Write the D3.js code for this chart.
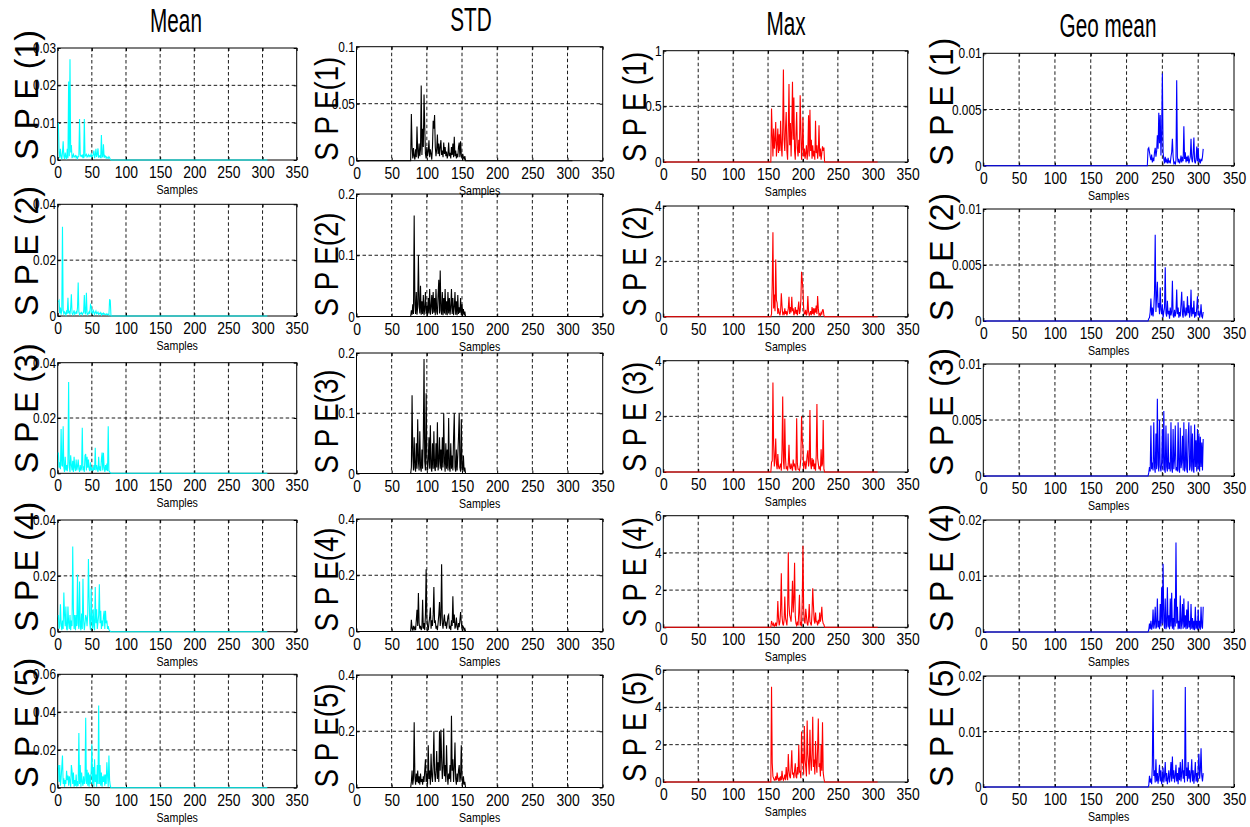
<!DOCTYPE html>
<html>
<head>
<meta charset="utf-8">
<script src="https://cdn.jsdelivr.net/npm/d3@7/dist/d3.min.js"></script>
<style>
  html, body { margin: 0; padding: 0; background: #ffffff; }
  svg { display: block; }
  text { font-family: "Liberation Sans", Arial, "DejaVu Sans", sans-serif; fill: #000; }
</style>
</head>
<body>
<svg id="chart" width="1250" height="827"></svg>
<script>
// ---- data -------------------------------------------------------------
// Each feature is active over its own block of samples; outside it the SPE is 0.
const lastSample = 307;
const xTicks = [0, 50, 100, 150, 200, 250, 300, 350];
const xMax = 350;

const columnTitles = ["Mean", "STD", "Max", "Geo mean"];
const blockStart = [1, 78, 155, 230];

// Mean feature, SPE(1)..SPE(5), samples 1..78
const meanSpe1 = [0.010,0.002,0.0005,0.003,0.001,0.0002,0.002,0.005,0.001,0.0003,0.002,0.0008,0.0002,0.003,0.0005,0.021,0.001,0.027,0.002,0.004,0.0005,0.001,0.0015,0.0008,0.001,0.0012,0.0006,0.001,0.0004,0.0009,0.001,0.011,0.0015,0.001,0.0012,0.0008,0.0015,0.0005,0.011,0.001,0.0012,0.0015,0.0008,0.001,0.0014,0.0009,0.0012,0.001,0.0016,0.0008,0.0012,0.0014,0.0025,0.0005,0.0012,0.003,0.0008,0.0015,0.0031,0.0006,0.001,0.0012,0.0005,0.0067,0.0008,0.001,0.0042,0.0006,0.0012,0.001,0.0005,0.0008,0.0006,0.0004,0.0009,0.0006,0.0002,0];
const meanSpe2 = [0.005,0.0055,0.001,0.003,0.0005,0.002,0.032,0.002,0.0008,0.0015,0.001,0.0004,0.002,0.0008,0.0065,0.001,0.0015,0.0005,0.003,0.0078,0.001,0.0005,0.0012,0.002,0.0006,0.001,0.0015,0.0008,0.003,0.012,0.0015,0.0005,0.001,0.0008,0.0012,0.0005,0.001,0.0015,0.0075,0.001,0.0008,0.0083,0.0012,0.0005,0.001,0.0015,0.0008,0.004,0.0035,0.0012,0.0008,0.002,0.0015,0.0006,0.0012,0.0018,0.0008,0.001,0.0014,0.0006,0.001,0.0008,0.0012,0.0004,0.0009,0.0006,0.001,0.0005,0.0008,0.0006,0.0004,0.0008,0.0005,0.0006,0.0003,0.006,0.0055,0];
const meanSpe3 = [0.0075,0.002,0.004,0.0015,0.016,0.003,0.0025,0.017,0.002,0.0005,0.006,0.001,0.003,0.0008,0.004,0.033,0.002,0.0005,0.0065,0.003,0.001,0.0045,0.0005,0.006,0.002,0.0008,0.005,0.001,0.0025,0.005,0.0015,0.0005,0.003,0.001,0.002,0.0165,0.001,0.0025,0.0005,0.0065,0.007,0.001,0.006,0.002,0.005,0.0015,0.0008,0.004,0.001,0.002,0.0015,0.0008,0.003,0.0012,0.0092,0.001,0.003,0.0015,0.0005,0.006,0.001,0.0025,0.0008,0.005,0.0075,0.001,0.0074,0.002,0.0005,0.003,0.001,0.0035,0.0008,0.017,0.001,0.0005,0.0002,0];
const meanSpe4 = [0.006,0.001,0.002,0.0098,0.003,0.0005,0.004,0.001,0.014,0.006,0.002,0.009,0.001,0.0005,0.009,0.003,0.001,0.006,0.0005,0.004,0.002,0.0305,0.008,0.001,0.006,0.0005,0.006,0.002,0.0205,0.003,0.001,0.018,0.002,0.0005,0.0065,0.001,0.019,0.004,0.0005,0.003,0.006,0.005,0.002,0.0065,0.026,0.012,0.003,0.0005,0.0155,0.004,0.001,0.008,0.002,0.0005,0.016,0.003,0.008,0.001,0.0035,0.006,0.017,0.003,0.0075,0.001,0.004,0.002,0.0055,0.0075,0.001,0.0075,0.003,0.004,0.001,0.002,0.0008,0.0004,0.0002,0];
const meanSpe5 = [0.012,0.003,0.012,0.001,0.005,0.011,0.017,0.002,0.005,0.0005,0.004,0.002,0.009,0.004,0.0065,0.001,0.006,0.003,0.0005,0.012,0.009,0.002,0.008,0.0005,0.004,0.001,0.007,0.0005,0.0035,0.001,0.029,0.002,0.012,0.0005,0.008,0.003,0.001,0.006,0.002,0.004,0.037,0.002,0.0095,0.001,0.008,0.0005,0.007,0.002,0.0085,0.023,0.002,0.011,0.0005,0.015,0.003,0.007,0.0005,0.012,0.002,0.0435,0.002,0.012,0.001,0.008,0.0005,0.006,0.003,0.007,0.001,0.007,0.002,0.0135,0.0065,0.0005,0.017,0.004,0.001,0];

// STD feature, samples 78..155
const stdSpe1 = [0.041,0.012,0.002,0.011,0.004,0.001,0.01,0.003,0.03,0.008,0.002,0.015,0.004,0.01,0.066,0.005,0.028,0.012,0.058,0.03,0.006,0.002,0.012,0.004,0.008,0.018,0.003,0.01,0.006,0.001,0.012,0.035,0.028,0.04,0.012,0.004,0.01,0.023,0.006,0.015,0.004,0.012,0.018,0.005,0.009,0.003,0.016,0.006,0.012,0.004,0.008,0.002,0.005,0.016,0.004,0.007,0.002,0.012,0.005,0.015,0.003,0.021,0.004,0.009,0.002,0.006,0.003,0.012,0.016,0.003,0.017,0.005,0.002,0.006,0.003,0.001,0.004,0];
const stdSpe2 = [0.01,0.003,0.02,0.004,0.165,0.02,0.004,0.04,0.003,0.015,0.1,0.02,0.005,0.05,0.003,0.025,0.004,0.035,0.002,0.012,0.04,0.004,0.018,0.002,0.03,0.005,0.045,0.003,0.015,0.035,0.004,0.04,0.006,0.03,0.002,0.045,0.008,0.003,0.035,0.06,0.005,0.075,0.01,0.003,0.04,0.002,0.03,0.005,0.045,0.003,0.025,0.002,0.04,0.005,0.03,0.003,0.015,0.045,0.004,0.03,0.002,0.015,0.04,0.003,0.025,0.002,0.035,0.004,0.015,0.006,0.03,0.002,0.02,0.004,0.012,0.002,0.008,0];
const stdSpe3 = [0.01,0.13,0.03,0.005,0.06,0.01,0.003,0.05,0.008,0.09,0.02,0.005,0.07,0.01,0.003,0.04,0.008,0.06,0.19,0.02,0.005,0.133,0.03,0.005,0.02,0.06,0.008,0.08,0.01,0.003,0.05,0.008,0.07,0.01,0.004,0.05,0.01,0.085,0.005,0.02,0.06,0.008,0.04,0.005,0.06,0.01,0.1,0.02,0.003,0.05,0.008,0.04,0.005,0.092,0.01,0.003,0.05,0.008,0.03,0.005,0.06,0.1,0.01,0.003,0.04,0.005,0.03,0.06,0.1,0.01,0.003,0.09,0.01,0.005,0.03,0.003,0.01,0];
const stdSpe4 = [0.042,0.01,0.005,0.02,0.008,0.015,0.005,0.04,0.0775,0.02,0.137,0.03,0.01,0.02,0.005,0.015,0.113,0.01,0.03,0.005,0.06,0.221,0.05,0.02,0.005,0.03,0.05,0.085,0.01,0.04,0.02,0.06,0.158,0.03,0.04,0.01,0.02,0.005,0.03,0.06,0.105,0.02,0.05,0.239,0.03,0.01,0.04,0.06,0.02,0.035,0.01,0.03,0.055,0.06,0.01,0.02,0.005,0.04,0.02,0.125,0.03,0.06,0.01,0.02,0.05,0.015,0.005,0.03,0.015,0.04,0.069,0.03,0.01,0.02,0.015,0.005,0.01,0];
const stdSpe5 = [0.02,0.06,0.01,0.03,0.232,0.04,0.01,0.05,0.02,0.06,0.015,0.04,0.01,0.05,0.02,0.03,0.01,0.04,0.02,0.06,0.1,0.02,0.05,0.01,0.15,0.03,0.06,0.01,0.12,0.04,0.02,0.08,0.2,0.05,0.02,0.06,0.13,0.03,0.09,0.02,0.2,0.06,0.205,0.1,0.03,0.07,0.21,0.04,0.08,0.02,0.15,0.05,0.01,0.05,0.03,0.08,0.02,0.255,0.06,0.1,0.02,0.07,0.16,0.03,0.01,0.05,0.02,0.06,0.08,0.02,0.04,0.15,0.03,0.01,0.04,0.01,0.02,0];

// Max feature, samples 155..231
const maxSpe1 = [0.48,0.25,0.05,0.3,0.12,0.2,0.36,0.05,0.15,0.3,0.08,0.25,0.1,0.37,0.15,0.05,0.3,0.83,0.2,0.1,0.3,0.45,0.1,0.02,0.3,0.7,0.15,0.35,0.05,0.3,0.72,0.2,0.58,0.1,0.02,0.25,0.45,0.12,0.05,0.2,0.08,0.6,0.3,0.02,0.15,0.4,0.05,0.12,0.03,0.08,0.15,0.02,0.1,0.42,0.05,0.47,0.1,0.2,0.03,0.15,0.05,0.1,0.02,0.37,0.08,0.15,0.03,0.1,0.33,0.05,0.12,0.02,0.08,0.14,0.1,0.13,0];
const maxSpe2 = [0.1,1.2,3.05,0.3,0.8,0.2,2.07,0.6,0.5,0.1,0.3,0.15,0.05,0.2,0.85,0.4,0.1,0.15,0.05,0.3,0.1,0.2,0.05,0.15,0.3,0.72,0.1,0.35,0.15,0.72,0.2,0.3,0.05,0.15,0.35,0.1,0.25,0.05,0.3,0.55,0.1,0.2,0.6,1.62,1.3,1.0,0.3,0.1,0.1,0.25,0.05,0.15,0.75,0.2,0.05,0.1,0.2,0.05,0.35,0.1,0.3,0.05,0.3,0.15,0.4,0.1,0.75,0.3,0.05,0.1,0.05,0.15,0.1,0.25,0.25,0.05,0];
const maxSpe3 = [0.35,0.4,3.22,1.0,0.2,0.5,1.2,0.3,0.1,0.65,0.2,0.1,0.2,0.3,0.05,0.8,2.71,0.4,0.1,1.92,0.5,0.1,0.2,0.05,0.3,0.98,0.2,0.1,0.3,0.15,0.05,0.45,0.2,0.3,0.1,0.05,1.93,0.3,0.1,0.1,0.05,0.2,0.5,2.0,1.15,0.9,0.1,0.3,0.4,0.1,0.3,0.6,0.78,0.2,0.4,2.23,0.3,0.1,0.5,0.2,0.45,0.1,0.3,0.05,0.6,2.44,0.5,0.3,0.1,0.2,0.05,0.82,0.2,0.3,1.87,0.1,0];
const maxSpe4 = [0.34,0.2,0.1,0.2,0.05,0.1,0.25,0.05,0.3,1.41,0.5,0.1,0.3,1.0,2.9,0.6,0.2,0.1,0.4,1.65,0.5,0.3,0.1,0.8,4.03,1.2,0.65,0.5,0.3,1.2,2.5,0.8,1.5,3.47,0.6,0.2,0.1,0.3,0.1,0.8,1.75,0.1,0.3,0.05,1.5,4.39,1.0,0.3,0.2,1.0,0.6,0.2,0.1,0.5,1.25,0.3,0.2,0.1,0.8,2.1,1.2,0.4,0.2,0.8,0.3,0.3,0.1,0.4,0.2,0.8,0.3,0.6,1.1,0.4,0.2,0.15,0];
const maxSpe5 = [5.1,1.0,0.3,0.2,0.1,0.1,0.3,0.1,0.5,0.2,0.1,0.2,0.05,0.3,0.1,0.6,0.2,0.1,0.2,0.4,0.1,0.8,0.3,0.1,1.5,0.6,0.3,0.2,0.8,1.7,0.4,0.5,0.2,0.6,1.0,0.3,0.2,0.8,0.4,2.0,0.5,0.6,0.2,2.7,1.0,1.5,0.4,3.0,1.2,0.8,0.3,3.3,1.5,1.0,0.4,2.8,1.2,0.6,1.5,3.5,0.8,1.2,0.4,2.2,1.0,0.5,1.8,3.4,0.8,1.0,0.3,2.0,0.6,3.2,0.5,0.2,0];

// Geometric-mean feature, samples 230..307
const geoSpe1 = [0.0015,0.0016,0.0012,0.0008,0.0005,0.001,0.0003,0.0006,0.0004,0.0012,0.0016,0.0008,0.0013,0.0027,0.0015,0.0047,0.002,0.0045,0.0009,0.003,0.0082,0.0012,0.0006,0.0002,0.0008,0.0003,0.0005,0.0002,0.0007,0.0003,0.0004,0.0002,0.0008,0.0012,0.0024,0.0008,0.0002,0.0003,0.0001,0.0005,0.0076,0.0008,0.0003,0.0006,0.0002,0.0004,0.0009,0.0003,0.0008,0.0004,0.0035,0.0006,0.0012,0.0003,0.0008,0.0004,0.0009,0.0002,0.0005,0.0008,0.0024,0.0006,0.0003,0.0011,0.0025,0.0004,0.0002,0.0006,0.0017,0.0004,0.0016,0.0003,0.0005,0.0002,0.0006,0.0004,0.0008,0.0015];
const geoSpe2 = [0,0.0002,0.0003,0.0008,0.002,0.0005,0.0012,0.0004,0.0012,0.0025,0.0077,0.0008,0.0022,0.0035,0.0012,0.0016,0.0006,0.003,0.001,0.0006,0.0015,0.0003,0.0008,0.0012,0.0048,0.0007,0.0004,0.0018,0.0006,0.0009,0.0002,0.0012,0.0005,0.0008,0.0036,0.0005,0.0003,0.001,0.0004,0.0008,0.0028,0.0006,0.0012,0.0003,0.0008,0.0004,0.0015,0.0026,0.0006,0.0003,0.0018,0.0008,0.0004,0.0012,0.0005,0.0022,0.0007,0.0014,0.0003,0.0008,0.0028,0.0004,0.0012,0.0006,0.0018,0.0003,0.0008,0.0004,0.0012,0.0022,0.0005,0.0009,0.0003,0.0006,0.0015,0.0004,0.0003,0.0008];
const geoSpe3 = [0,0.0003,0.0008,0.0004,0.0045,0.0006,0.0012,0.0005,0.0048,0.0008,0.0003,0.0038,0.0006,0.0069,0.001,0.0004,0.005,0.0008,0.0004,0.0012,0.0042,0.0005,0.0058,0.0006,0.0003,0.0045,0.0008,0.0004,0.0038,0.0006,0.0012,0.0004,0.0048,0.0007,0.0003,0.0042,0.0006,0.0015,0.0045,0.0005,0.0008,0.0004,0.0048,0.0006,0.0003,0.0043,0.0007,0.0012,0.0036,0.0005,0.0048,0.0004,0.0008,0.0042,0.0006,0.0003,0.0035,0.0048,0.0005,0.0009,0.0045,0.0004,0.0038,0.0006,0.0003,0.0046,0.0008,0.0032,0.0004,0.0042,0.0006,0.0038,0.0004,0.0035,0.0008,0.003,0.0005,0.0033];
const geoSpe4 = [0,0.0004,0.0015,0.0005,0.002,0.0004,0.001,0.004,0.0006,0.0015,0.0045,0.0006,0.001,0.006,0.0008,0.002,0.0005,0.005,0.001,0.008,0.0015,0.0122,0.002,0.0006,0.006,0.0005,0.0012,0.008,0.0008,0.003,0.0005,0.006,0.001,0.007,0.0006,0.0025,0.0004,0.006,0.001,0.016,0.0015,0.0045,0.0005,0.002,0.0006,0.0065,0.0005,0.0015,0.005,0.0006,0.006,0.0008,0.003,0.0005,0.004,0.0006,0.0055,0.0008,0.002,0.0004,0.005,0.0006,0.0025,0.0004,0.002,0.0003,0.0045,0.0006,0.002,0.0004,0.004,0.0006,0.002,0.0004,0.0045,0.001,0.0006,0.0045];
const geoSpe5 = [0,0.0003,0.002,0.0008,0.0015,0.0005,0.004,0.0175,0.002,0.003,0.0008,0.005,0.001,0.0025,0.0006,0.002,0.004,0.001,0.003,0.0005,0.0015,0.0035,0.0008,0.002,0.0045,0.001,0.0025,0.0005,0.0015,0.003,0.0008,0.002,0.0045,0.001,0.0055,0.0015,0.003,0.0008,0.002,0.004,0.001,0.0025,0.0005,0.0035,0.0012,0.0045,0.001,0.0025,0.005,0.0015,0.003,0.0008,0.018,0.002,0.0035,0.001,0.0045,0.0015,0.003,0.0008,0.0025,0.005,0.001,0.003,0.0006,0.002,0.0045,0.001,0.0025,0.0008,0.0035,0.006,0.0015,0.003,0.007,0.002,0.001,0.0025];

// y-axis limits and tick labels for each row, per feature
const meanYMax = [0.03, 0.04, 0.04, 0.04, 0.06];
const meanYTicks = [[0,0.01,0.02,0.03],[0,0.02,0.04],[0,0.02,0.04],[0,0.02,0.04],[0,0.02,0.04,0.06]];
const stdYMax = [0.1, 0.2, 0.2, 0.4, 0.4];
const stdYTicks = [[0,0.05,0.1],[0,0.1,0.2],[0,0.1,0.2],[0,0.2,0.4],[0,0.2,0.4]];
const maxYMax = [1, 4, 4, 6, 6];
const maxYTicks = [[0,0.5,1],[0,2,4],[0,2,4],[0,2,4,6],[0,2,4,6]];
const geoYMax = [0.01, 0.01, 0.01, 0.02, 0.02];
const geoYTicks = [[0,0.005,0.01],[0,0.005,0.01],[0,0.005,0.01],[0,0.01,0.02],[0,0.01,0.02]];

const seriesByColumn = [
  [meanSpe1, meanSpe2, meanSpe3, meanSpe4, meanSpe5],
  [stdSpe1, stdSpe2, stdSpe3, stdSpe4, stdSpe5],
  [maxSpe1, maxSpe2, maxSpe3, maxSpe4, maxSpe5],
  [geoSpe1, geoSpe2, geoSpe3, geoSpe4, geoSpe5]
];
const yMaxByColumn = [meanYMax, stdYMax, maxYMax, geoYMax];
const yTicksByColumn = [meanYTicks, stdYTicks, maxYTicks, geoYTicks];

// ---- layout & style -----------------------------------------------------
const colors = ["#00ffff", "#000000", "#ff0000", "#0000ff"];
const colX = [[57.7, 296.7], [356.5, 602.7], [663.3, 907.7], [983.3, 1234]];
const rowY = [
  [[48, 160], [204.3, 316], [362.7, 473.3], [520, 631.7], [674.3, 787.7]],
  [[46.7, 160.7], [194, 316.5], [353, 473.5], [519, 631.5], [675, 787.5]],
  [[50.7, 162], [206, 316.7], [360.7, 472], [515.7, 627.3], [670, 782]],
  [[53.3, 165.7], [209, 321], [364, 476], [520, 632], [676, 787]]
];
const yLabelX = [37.5, 337.5, 645.5, 952.5];
const yLabelLen = [130, 104, 110, 128];
const titleX = [176, 471, 786, 1108];
const narrow = 0.82;   // condensed lettering

const svg = d3.select("#chart");
svg.append("rect").attr("width", 1250).attr("height", 827).attr("fill", "#fff");

const fmt = v => String(+v.toPrecision(6));

columnTitles.forEach((title, c) => {
  const [x0, x1] = colX[c];

  svg.append("text")
    .attr("transform", `translate(${titleX[c]},${rowY[c][0][0] - 16}) scale(0.61,1)`)
    .attr("text-anchor", "middle")
    .attr("font-size", 34)
    .text(title);

  seriesByColumn[c].forEach((vals, r) => {
    const [y0, y1] = rowY[c][r];
    const x = d3.scaleLinear().domain([0, xMax]).range([x0, x1]);
    const y = d3.scaleLinear().domain([0, yMaxByColumn[c][r]]).range([y1, y0]);
    const yTicks = yTicksByColumn[c][r];
    const g = svg.append("g");

    // dashed grid
    g.append("g").selectAll("line").data(xTicks.filter(t => t > 0 && t < xMax)).join("line")
      .attr("x1", d => x(d)).attr("x2", d => x(d)).attr("y1", y0).attr("y2", y1)
      .attr("stroke", "#000").attr("stroke-width", 0.9).attr("stroke-dasharray", "3.5,2.5");
    g.append("g").selectAll("line").data(yTicks.filter(t => t > 0 && t < yMaxByColumn[c][r])).join("line")
      .attr("x1", x0).attr("x2", x1).attr("y1", d => y(d)).attr("y2", d => y(d))
      .attr("stroke", "#000").attr("stroke-width", 0.9).attr("stroke-dasharray", "3.5,2.5");

    // axes with inward ticks on all four sides
    const bottom = g.append("g").attr("transform", `translate(0,${y1})`)
      .call(d3.axisBottom(x).tickValues(xTicks).tickSizeInner(-3).tickSizeOuter(0).tickPadding(6).tickFormat(fmt));
    bottom.selectAll("text").attr("font-size", 17).attr("font-family", null)
      .attr("transform", `scale(${narrow},1)`);
    g.append("g").attr("transform", `translate(0,${y0})`)
      .call(d3.axisTop(x).tickValues(xTicks).tickSizeInner(-3).tickSizeOuter(0).tickFormat(""));
    const left = g.append("g").attr("transform", `translate(${x0},0)`)
      .call(d3.axisLeft(y).tickValues(yTicks).tickSizeInner(-3).tickSizeOuter(0).tickPadding(2).tickFormat(fmt));
    left.selectAll("text").attr("font-size", 14.5).attr("font-family", null)
      .attr("transform", `scale(${narrow},1)`);
    g.append("g").attr("transform", `translate(${x1},0)`)
      .call(d3.axisRight(y).tickValues(yTicks).tickSizeInner(-3).tickSizeOuter(0).tickFormat(""));
    g.selectAll(".domain").remove();
    g.selectAll(".tick line").attr("stroke", "#000");

    // axes box
    g.append("rect").attr("x", x0).attr("y", y0).attr("width", x1 - x0).attr("height", y1 - y0)
      .attr("fill", "none").attr("stroke", "#000").attr("stroke-width", 1);

    // SPE trace over all samples (zero outside the feature's block)
    const s = blockStart[c];
    const pts = d3.range(1, lastSample + 1).map(k => [k, (k >= s && k < s + vals.length) ? vals[k - s] : 0]);
    g.append("path").datum(pts)
      .attr("fill", "none").attr("stroke", colors[c]).attr("stroke-width", 1.1)
      .attr("stroke-linejoin", "miter")
      .attr("d", d3.line().x(d => x(d[0])).y(d => y(d[1])));

    // x label
    g.append("text")
      .attr("transform", `translate(${(x0 + x1) / 2},${y1 + 34}) scale(${narrow},1)`)
      .attr("text-anchor", "middle").attr("font-size", 13)
      .text("Samples");

    // y label
    const label = c === 1 ? `S P E(${r + 1})` : `S P E (${r + 1})`;
    g.append("text")
      .attr("transform", `translate(${yLabelX[c]},${y1}) rotate(-90)`)
      .attr("text-anchor", "start").attr("font-size", 34)
      .attr("textLength", yLabelLen[c]).attr("lengthAdjust", "spacingAndGlyphs")
      .text(label);
  });
});
</script>
</body>
</html>
